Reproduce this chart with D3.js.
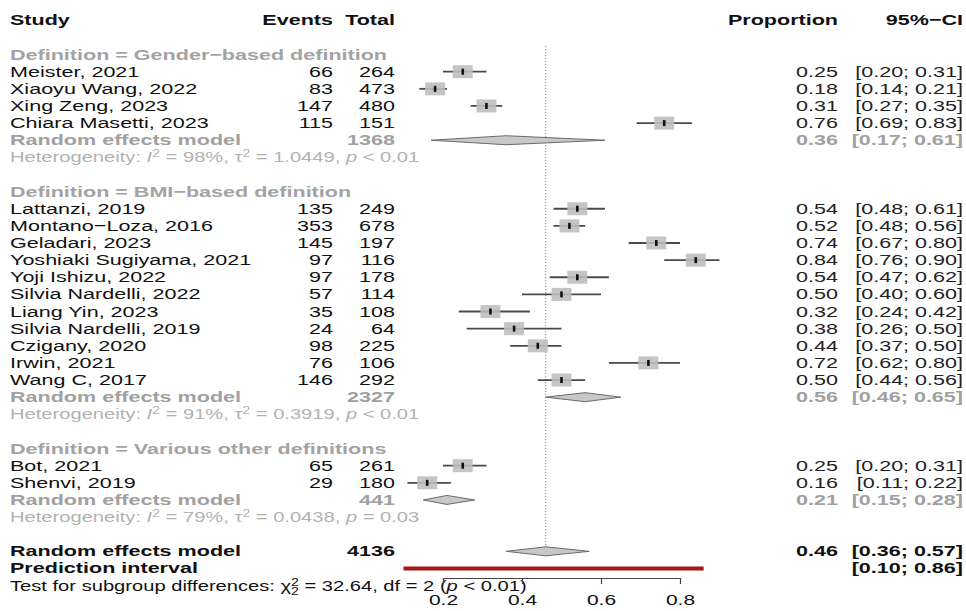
<!DOCTYPE html>
<html>
<head>
<meta charset="utf-8">
<script src="https://cdn.jsdelivr.net/npm/d3@7"></script>
<style>
  body { margin: 0; background: #fff; }
  svg { display: block; }
  text { font-family: "Liberation Sans", Arial, Helvetica, sans-serif; }
</style>
</head>
<body>
<svg id="chart" width="966" height="611"></svg>
<script>
// ---- data ----
const groupNames = ["Gender−based definition", "BMI−based definition", "Various other definitions"];

const studyNames = [
  "Meister, 2021", "Xiaoyu Wang, 2022", "Xing Zeng, 2023", "Chiara Masetti, 2023",
  "Lattanzi, 2019", "Montano−Loza, 2016", "Geladari, 2023", "Yoshiaki Sugiyama, 2021",
  "Yoji Ishizu, 2022", "Silvia Nardelli, 2022", "Liang Yin, 2023", "Silvia Nardelli, 2019",
  "Czigany, 2020", "Irwin, 2021", "Wang C, 2017",
  "Bot, 2021", "Shenvi, 2019"
];
const studyGroup = [0, 0, 0, 0, 1, 1, 1, 1, 1, 1, 1, 1, 1, 1, 1, 2, 2];
const events = [66, 83, 147, 115, 135, 353, 145, 97, 97, 57, 35, 24, 98, 76, 146, 65, 29];
const totals = [264, 473, 480, 151, 249, 678, 197, 116, 178, 114, 108, 64, 225, 106, 292, 261, 180];
const proportions = [0.25, 0.18, 0.31, 0.76, 0.54, 0.52, 0.74, 0.84, 0.54, 0.50, 0.32, 0.38, 0.44, 0.72, 0.50, 0.25, 0.16];
const ciLower = [0.20, 0.14, 0.27, 0.69, 0.48, 0.48, 0.67, 0.76, 0.47, 0.40, 0.24, 0.26, 0.37, 0.62, 0.44, 0.20, 0.11];
const ciUpper = [0.31, 0.21, 0.35, 0.83, 0.61, 0.56, 0.80, 0.90, 0.62, 0.60, 0.42, 0.50, 0.50, 0.80, 0.56, 0.31, 0.22];

const subgroupTotals = [1368, 2327, 441];
const subgroupEst = [0.36, 0.56, 0.21];
const subgroupLower = [0.17, 0.46, 0.15];
const subgroupUpper = [0.61, 0.65, 0.28];
const hetI2 = ["98%", "91%", "79%"];
const hetTau2 = ["1.0449", "0.3919", "0.0438"];
const hetP = ["< 0.01", "< 0.01", "= 0.03"];

const overallTotal = 4136;
const overallEst = 0.46, overallLower = 0.36, overallUpper = 0.57;
const predLower = 0.10, predUpper = 0.86;
const testChi2 = "32.64", testDf = 2, testP = "< 0.01";

const axisTicks = [0.2, 0.4, 0.6, 0.8];

// ---- layout ----
const svg = d3.select("#chart");
const SX = 1.4;                 // horizontal stretch of all lettering
const FS = 15.4, FS_SMALL = 14.4;
const colStudy = 10, colEvents = 333, colTotal = 395, colProp = 838, colCI = 963;
const C_BLACK = "#111", C_GROUP = "#a3a3a3", C_RE = "#a0a0a0", C_HET = "#b2b2b2";

const x = d3.scaleLinear().domain([0.2, 0.8]).range([443, 680]);
const y = d3.scaleLinear().domain([3, 33]).range([71.7, 585.6]);
const f2 = d3.format(".2f");

// build the row list
const rows = [];
rows.push({ type: "head" });
rows.push({ type: "blank" });
groupNames.forEach((g, gi) => {
  rows.push({ type: "group", g: gi });
  studyNames.forEach((s, i) => { if (studyGroup[i] === gi) rows.push({ type: "study", i }); });
  rows.push({ type: "re", g: gi });
  rows.push({ type: "het", g: gi });
  rows.push({ type: "blank" });
});
rows.push({ type: "overall" });
rows.push({ type: "pred" });
rows.push({ type: "test" });

function label(px, py, str, opt = {}) {
  return svg.append("text")
    .attr("transform", `translate(${px},${py + 5}) scale(${SX},1)`)
    .attr("text-anchor", opt.anchor || "start")
    .attr("font-size", opt.size || FS)
    .attr("font-weight", opt.bold ? "bold" : "normal")
    .attr("fill", opt.fill || C_BLACK)
    .text(str);
}
const ciText = (lo, hi) => `[${f2(lo)}; ${f2(hi)}]`;

// reference line at the overall estimate
svg.append("line")
  .attr("x1", x(overallEst)).attr("x2", x(overallEst))
  .attr("y1", y(1.5)).attr("y2", y(31) - 4.5)
  .attr("stroke", "#8a8a8a").attr("stroke-width", 1)
  .attr("stroke-dasharray", "1.2,1.8");

const sqW = 20, sqH = 13, dH = 4.5;

rows.forEach((r, idx) => {
  const cy = y(idx);
  if (r.type === "head") {
    label(colStudy, cy, "Study", { bold: true });
    label(colEvents, cy, "Events", { bold: true, anchor: "end" });
    label(colTotal, cy, "Total", { bold: true, anchor: "end" });
    label(colProp, cy, "Proportion", { bold: true, anchor: "end" });
    label(colCI, cy, "95%−CI", { bold: true, anchor: "end" });
  } else if (r.type === "group") {
    label(colStudy, cy, "Definition = " + groupNames[r.g], { bold: true, fill: C_GROUP });
  } else if (r.type === "study") {
    const i = r.i;
    label(colStudy, cy, studyNames[i]);
    label(colEvents, cy, events[i], { anchor: "end" });
    label(colTotal, cy, totals[i], { anchor: "end" });
    label(colProp, cy, f2(proportions[i]), { anchor: "end", fill: "#222" });
    label(colCI, cy, ciText(ciLower[i], ciUpper[i]), { anchor: "end", fill: "#222" });
    svg.append("line")
      .attr("x1", x(ciLower[i])).attr("x2", x(ciUpper[i]))
      .attr("y1", cy).attr("y2", cy)
      .attr("stroke", "#4a4a4a").attr("stroke-width", 1.8);
    svg.append("rect")
      .attr("x", x(proportions[i]) - sqW / 2).attr("y", cy - sqH / 2)
      .attr("width", sqW).attr("height", sqH)
      .attr("fill", "#bdbdbd").attr("fill-opacity", 0.88);
    svg.append("rect")
      .attr("x", x(proportions[i]) - 1.3).attr("y", cy - 3)
      .attr("width", 2.6).attr("height", 6)
      .attr("fill", "#111");
  } else if (r.type === "re") {
    const g = r.g;
    label(colStudy, cy, "Random effects model", { bold: true, fill: C_RE });
    label(colTotal, cy, subgroupTotals[g], { bold: true, anchor: "end", fill: C_RE });
    label(colProp, cy, f2(subgroupEst[g]), { bold: true, anchor: "end", fill: C_RE });
    label(colCI, cy, ciText(subgroupLower[g], subgroupUpper[g]), { bold: true, anchor: "end", fill: C_RE });
    svg.append("polygon")
      .attr("points", [[x(subgroupLower[g]), cy], [x(subgroupEst[g]), cy - dH],
                       [x(subgroupUpper[g]), cy], [x(subgroupEst[g]), cy + dH]].join(" "))
      .attr("fill", "#c8c8c8").attr("stroke", "#6a6a6a").attr("stroke-width", 1);
  } else if (r.type === "het") {
    const g = r.g;
    const t = label(colStudy, cy, "", { size: FS_SMALL, fill: C_HET });
    t.append("tspan").text("Heterogeneity: ");
    t.append("tspan").attr("font-style", "italic").text("I");
    t.append("tspan").attr("font-size", 10).attr("dy", -5).text("2");
    t.append("tspan").attr("dy", 5).text(" = " + hetI2[g] + ", τ");
    t.append("tspan").attr("font-size", 10).attr("dy", -5).text("2");
    t.append("tspan").attr("dy", 5).text(" = " + hetTau2[g] + ", ");
    t.append("tspan").attr("font-style", "italic").text("p");
    t.append("tspan").text(" " + hetP[g]);
  } else if (r.type === "overall") {
    label(colStudy, cy, "Random effects model", { bold: true });
    label(colTotal, cy, overallTotal, { bold: true, anchor: "end" });
    label(colProp, cy, f2(overallEst), { bold: true, anchor: "end" });
    label(colCI, cy, ciText(overallLower, overallUpper), { bold: true, anchor: "end" });
    svg.append("polygon")
      .attr("points", [[x(overallLower), cy], [x(overallEst), cy - dH],
                       [x(overallUpper), cy], [x(overallEst), cy + dH]].join(" "))
      .attr("fill", "#c8c8c8").attr("stroke", "#6a6a6a").attr("stroke-width", 1);
  } else if (r.type === "pred") {
    label(colStudy, cy, "Prediction interval", { bold: true });
    label(colCI, cy, ciText(predLower, predUpper), { bold: true, anchor: "end" });
    svg.append("line")
      .attr("x1", x(predLower)).attr("x2", x(predUpper))
      .attr("y1", cy).attr("y2", cy)
      .attr("stroke", "#a3161b").attr("stroke-width", 4);
  } else if (r.type === "test") {
    const t = label(colStudy, cy, "", { size: FS_SMALL });
    t.append("tspan").text("Test for subgroup differences: χ");
    t.append("tspan").attr("font-size", 10).attr("dy", -5).text("2");
    t.append("tspan").attr("font-size", 10).attr("dx", -5.6).attr("dy", 9).text(String(testDf));
    t.append("tspan").attr("dy", -4).text(" = " + testChi2 + ", df = " + testDf + " (");
    t.append("tspan").attr("font-style", "italic").text("p");
    t.append("tspan").text(" " + testP + ")");
  }
});

// x axis
const axisG = svg.append("g")
  .attr("transform", "translate(0,578)")
  .call(d3.axisBottom(x).tickValues(axisTicks).tickFormat(d3.format(".1f"))
    .tickSize(6).tickSizeOuter(0).tickPadding(10));
axisG.select(".domain").attr("stroke", "#444").attr("stroke-width", 1.2);
axisG.selectAll(".tick line").attr("stroke", "#444").attr("stroke-width", 1.2);
axisG.selectAll(".tick text")
  .attr("font-size", 15)
  .attr("font-family", "'Liberation Sans', Arial, sans-serif")
  .attr("fill", "#111")
  .attr("transform", `scale(${SX},1)`);
</script>
</body>
</html>
